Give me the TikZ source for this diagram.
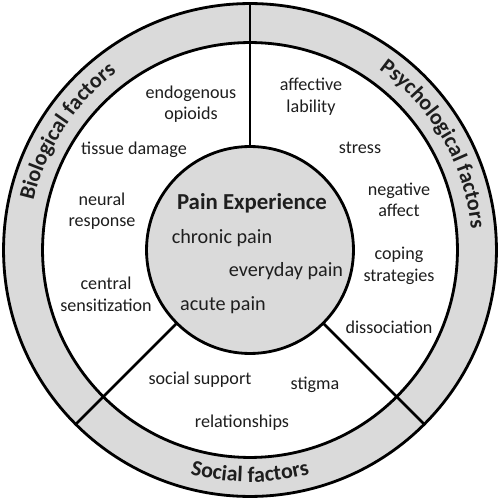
\documentclass[tikz,border=0pt]{standalone}
\usepackage{fontspec}
\setmainfont{Carlito}
\usepackage{xcolor}
\usetikzlibrary{positioning}
\usetikzlibrary{decorations.text}
\definecolor{ringgray}{RGB}{218,218,218}
\definecolor{textgray}{RGB}{30,30,30}

\begin{document}
\begin{tikzpicture}[x=0.02cm, y=0.02cm,
	item/.style={align=center, font=\fontsize{10.3}{12.3}\selectfont, text=textgray},
	core/.style={align=center, font=\fontsize{11.5}{13.8}\selectfont, text=textgray},
	ring/.style={circle, draw, line width=1.6pt, outer sep=0pt, inner sep=0pt},
	spoke/.style={draw, line width=1.6pt},
	arctext/.style={decorate, decoration={text along path, text align=center, text color=textgray, text={|\fontsize{12.5}{15}\selectfont\bfseries|#1}}}]
			\useasboundingbox (-250,-250) rectangle (250,250);
			
			\node[ring, fill=ringgray, minimum size=9.86cm] at (0,0) (outer) {};
			\node[ring, fill=white, minimum size=8.3cm] at (0,0) (inner) {};
			\node[ring, fill=ringgray, minimum size=4.14cm] at (0,0) (core) {};
			
			\draw[spoke] (core.north) -- (outer.north);
			\draw[spoke] (core.-135) -- (outer.-135);
			\draw[spoke] (core.-45) -- (outer.-45);
			
			% ring titles
			\path[arctext=Biological factors] (187:222) arc[start angle=187, end angle=107, radius=222];
			\path[arctext=Psychological factors] (70:222) arc[start angle=70, end angle=-10, radius=222];
			\path[arctext=Social factors] (230:232) arc[start angle=230, end angle=310, radius=232];
			
			\node[core, font=\fontsize{13}{15.6}\selectfont\bfseries] at (2,47) (title) {Pain Experience};
			\node[core] at (-28,12) (chronic) {chronic pain};
			\node[core] at (36,-21) (everyday) {everyday pain};
			\node[core] at (-27,-55) (acute) {acute pain};
			
			\node[item] at (-59,146) (opioids) {endogenous\\opioids};
			\node[item] at (-116,100) (tissue) {tissue damage};
			\node[item] at (-148,39) (neural) {neural\\response};
			\node[item] at (-144,-44) (central) {central\\sensitization};
			
			\node[item] at (61,153) (lability) {affective\\lability};
			\node[item] at (110,102) (stress) {stress};
			\node[item] at (149,50) (negative) {negative\\affect};
			\node[item] at (149,-16) (coping) {coping\\strategies};
			\node[item] at (139,-77) (dissociation) {dissociation};
			
			\node[item] at (-50,-130) (support) {social support};
			\node[item] at (65,-135) (stigma) {stigma};
			\node[item] at (-8,-173) (relations) {relationships};
		\end{tikzpicture}
\end{document}
